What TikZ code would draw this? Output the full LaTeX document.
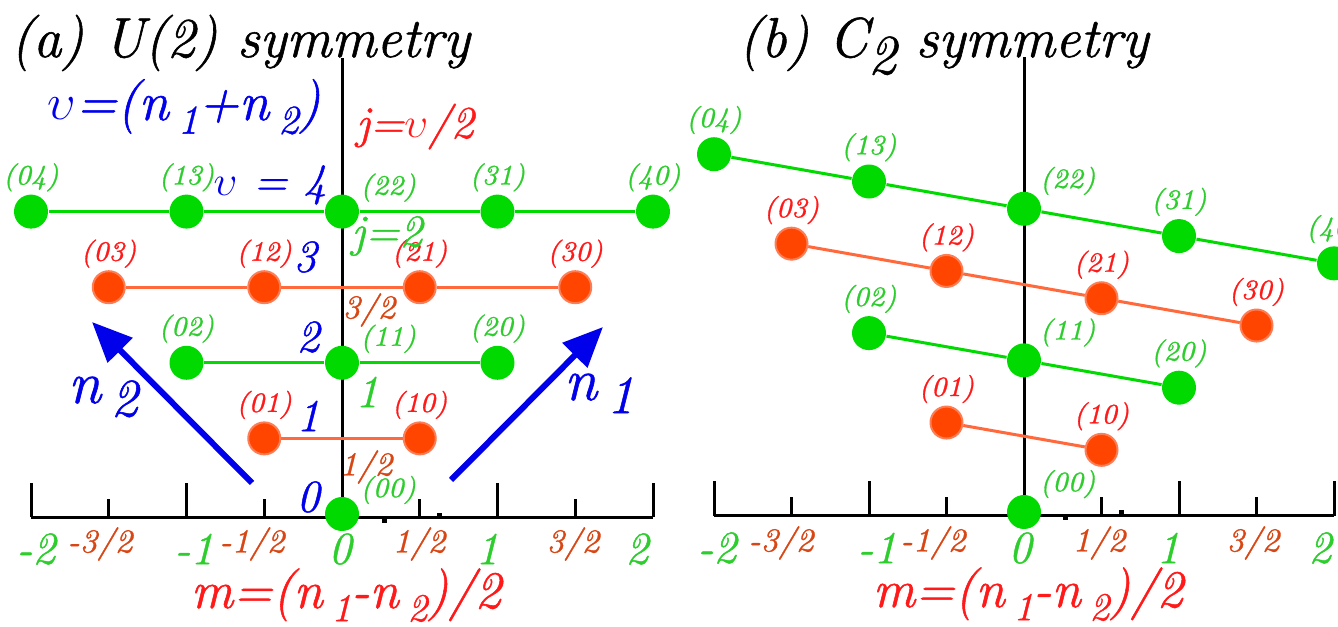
\documentclass[tikz,border=0pt]{standalone}
\usepackage{fontspec}
\setmainfont{Latin Modern Roman}[ItalicFeatures={FakeBold=1}]
\usepackage{graphicx}
\usetikzlibrary{arrows.meta}

\definecolor{stategreen}{RGB}{0,218,0}
\definecolor{textgreen}{RGB}{45,205,45}
\definecolor{stateorange}{RGB}{255,69,0}
\definecolor{edgeorange}{RGB}{255,125,85}
\definecolor{lineorange}{RGB}{255,105,60}
\definecolor{textred}{RGB}{255,25,25}
\definecolor{fracorange}{RGB}{215,70,20}
\definecolor{pumpblue}{RGB}{0,0,235}

\newcommand{\lsub}[1]{\,\raisebox{-0.25em}{\scalebox{0.75}{#1}}}
\newcommand{\arsub}[1]{\,\raisebox{-0.22em}{\scalebox{0.9}{#1}}}
\newcommand{\ups}{$\upsilon$}

\tikzset{
  st0/.style={circle, fill=stategreen, inner sep=0pt, minimum size=3.4mm},
  st1/.style={circle, fill=stateorange, draw=edgeorange, line width=0.2mm, inner sep=0pt, minimum size=3.2mm},
  lbl0/.style={text=textgreen, inner sep=0.5pt, font=\fontsize{8}{10}\selectfont\itshape},
  lbl1/.style={text=textred, inner sep=0.5pt, font=\fontsize{8}{10}\selectfont\itshape},
  row0/.style={draw=stategreen, line width=0.3mm},
  row1/.style={draw=lineorange, line width=0.3mm},
  axis/.style={line width=0.3mm},
  title/.style={font=\fontsize{16}{19}\selectfont\itshape, inner sep=0pt},
  formula/.style={font=\fontsize{15.5}{19}\selectfont\itshape, inner sep=0pt},
  num/.style={font=\fontsize{13}{16}\selectfont\itshape, inner sep=0pt},
  half/.style={font=\fontsize{9.5}{12}\selectfont\itshape, text=fracorange, inner sep=0pt},
  majlbl/.style={num, text=textgreen},
  pump/.style={draw=pumpblue, line width=0.6mm},
}

\begin{document}
\begin{tikzpicture}[x=0.1mm, y=-0.1mm, >={Triangle[length=4mm,width=3.4mm]}]
\useasboundingbox (0,0) rectangle (1338,627);

% (a) U(2)
\begin{scope}[shift={(342,514)}, x=15.55mm, y=7.56mm]
  \draw[axis] (0,-0.04) -- (0,6.03);
  \draw[axis] (-2,-0.04) -- (2,-0.04);
  \foreach \t in {-2,...,2} \draw[axis] (\t,-0.04) -- ++(0,0.45);
  \foreach \t in {-1.5,-0.5,0.5,1.5} \draw[axis] (\t,-0.04) -- ++(0,0.24);
  \foreach \v in {0,...,4} {
    \pgfmathtruncatemacro\p{mod(\v,2)}
    \foreach \a in {0,...,\v} {
      \pgfmathtruncatemacro\b{\v-\a}
      \pgfmathsetmacro\m{(\a-\b)/2}
      \pgfmathtruncatemacro\ang{\a==\b ? 25 : 90}
      \node[st\p, label={[lbl\p]\ang:(\a\b)}] (a\a\b) at (\m,\v) {};
      \ifnum\a>0
        \pgfmathtruncatemacro\pa{\a-1}
        \pgfmathtruncatemacro\pb{\b+1}
        \draw[row\p] (a\pa\pb) -- (a\a\b);
      \fi
    }
  }
\end{scope}

% (b) C2
\begin{scope}[shift={(1024,512)}, x=15.5mm, y=7.58mm]
  \draw[axis] (0,0.05) -- (0,6.0);
  \draw[axis] (-2,-0.05) -- (2,-0.05);
  \foreach \t in {-2,...,2} \draw[axis] (\t,-0.05) -- ++(0,0.46);
  \foreach \t in {-1.5,-0.5,0.5,1.5} \draw[axis] (\t,-0.05) -- ++(0,0.25);
  \foreach \v in {0,...,4} {
    \pgfmathtruncatemacro\p{mod(\v,2)}
    \foreach \a in {0,...,\v} {
      \pgfmathtruncatemacro\b{\v-\a}
      \pgfmathsetmacro\m{(\a-\b)/2}
      \pgfmathtruncatemacro\ang{\a==\b ? 40 : 90}
      \node[st\p, label={[lbl\p]\ang:(\a\b)}] (b\a\b) at (\m,{\v-0.36*\m}) {};
      \ifnum\a>0
        \pgfmathtruncatemacro\pa{\a-1}
        \pgfmathtruncatemacro\pb{\b+1}
        \draw[row\p] (b\pa\pb) -- (b\a\b);
      \fi
    }
  }
\end{scope}

% titles
\node[title, anchor=base west] (titleA) at (10,57) {(a) U(2) symmetry};
\node[title, anchor=base west] (titleB) at (738,57) {(b) C\raisebox{-0.3em}{2} symmetry};

% quantum numbers
\node[formula, text=pumpblue, anchor=base] (vdef) at (184,120) {\ups=(n\lsub{1}+n\lsub{2})};
\node[num, text=textred, anchor=base] (jdef) at (415,138) {j=\ups/2};
\node[num, text=pumpblue] (v4) at (270,185) {\ups\ = 4};
\node[num, text=pumpblue] (v3) at (305,257) {3};
\node[num, text=pumpblue] (v2) at (308,337) {2};
\node[num, text=pumpblue] (v1) at (308,416) {1};
\node[num, text=pumpblue] (v0) at (308,497) {0};
\node[num, text=textgreen] (j2) at (387,236) {j=2};
\node[half] (j32) at (369,310) {3/2};
\node[num, text=textgreen] (j1) at (367,392) {1};
\node[half] (j12) at (366,467) {1/2};

% n1, n2 directions
\coordinate (n2tail) at (252,483);
\coordinate (n2tip) at (92,322);
\coordinate (n1tail) at (451,480);
\coordinate (n1tip) at (603,327);
\draw[pump, ->] (n2tail) -- (n2tip);
\draw[pump, ->] (n1tail) -- (n1tip);
\node[formula, text=pumpblue, anchor=base, font=\fontsize{17}{20}\selectfont\itshape] (n2lbl) at (103,403) {n\arsub{2}};
\node[formula, text=pumpblue, anchor=base, font=\fontsize{17}{20}\selectfont\itshape] (n1lbl) at (599,400) {n\arsub{1}};

% tick labels
\foreach \x/\t [count=\i] in {36/-2, 194/-1, 340/0, 487/1, 637/2}
  \node[majlbl] (tma\i) at (\x,549) {\t};
\foreach \x/\t [count=\i] in {100/-3, 252/-1, 419/1, 573/3}
  \node[half] (tna\i) at (\x,544) {\t/2};
\foreach \x/\t [count=\i] in {717/-2, 877/-1, 1020/0, 1168/1, 1320/2}
  \node[majlbl] (tmb\i) at (\x,548) {\t};
\foreach \x/\t [count=\i] in {781/-3, 933/-1, 1099/1, 1253/3}
  \node[half] (tnb\i) at (\x,543) {\t/2};

\node[formula, text=textred, anchor=base, font=\fontsize{15}{18}\selectfont\itshape] (mdefA) at (346,608) {m=(n\lsub{1}-n\lsub{2})/2};
\node[formula, text=textred, anchor=base, font=\fontsize{15}{18}\selectfont\itshape] (mdefB) at (1028,607) {m=(n\lsub{1}-n\lsub{2})/2};

% specks on the axes
\fill (381.5,518.5) rectangle ++(5,5);
\fill (436.5,513.5) rectangle ++(5,5);
\fill (1062.5,515.5) rectangle ++(5,5);
\fill (1118.5,510.5) rectangle ++(5,5);
\end{tikzpicture}
\end{document}
